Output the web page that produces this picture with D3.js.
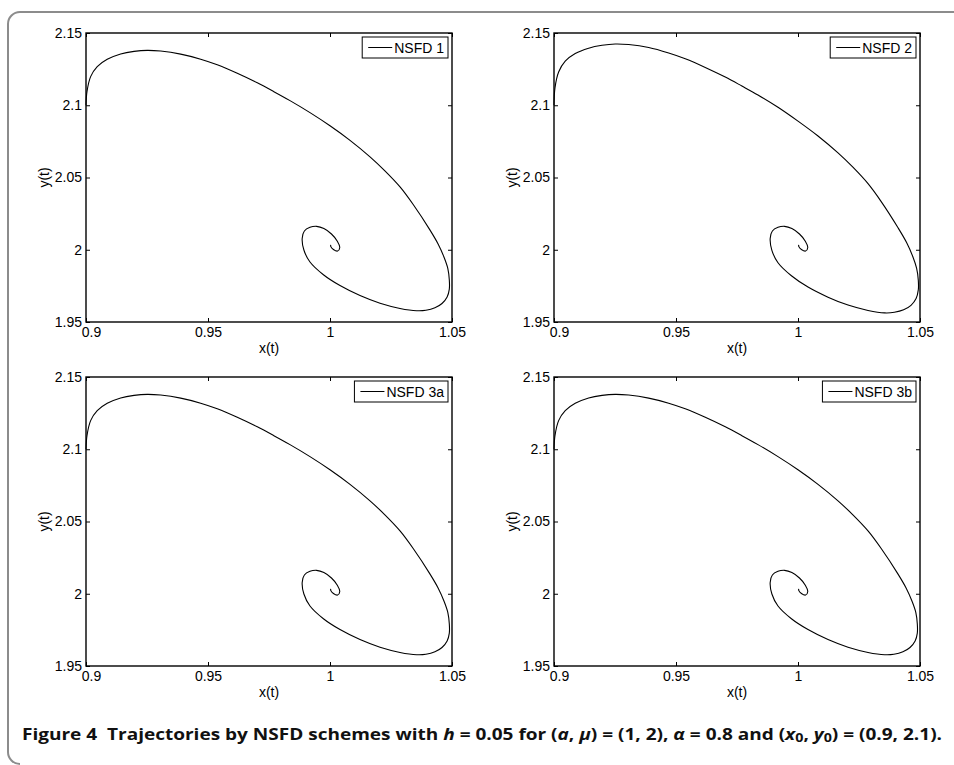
<!DOCTYPE html>
<html>
<head>
<meta charset="utf-8">
<script src="https://cdn.jsdelivr.net/npm/d3@7"></script>
<style>
  html, body { margin: 0; padding: 0; background: #fff; }
  svg { display: block; }
</style>
</head>
<body>
<svg id="chart" width="954" height="765"></svg>
<script>
// axis ticks shared by the four panels
const xTicks = [0.9, 0.95, 1, 1.05];
const yTicks = [1.95, 2, 2.05, 2.1, 2.15];
const legendLabels = ["NSFD 1", "NSFD 2", "NSFD 3a", "NSFD 3b"];

const nsfd1X = [0.9, 0.9004, 0.9019, 0.9046, 0.9087, 0.9142, 0.9197, 0.9251, 0.9306, 0.9388, 0.9470, 0.9538, 0.9620, 0.9702, 0.9770,
  0.9836, 0.9918, 1.0000, 1.0082, 1.0164, 1.0225, 1.0287, 1.0341, 1.0410, 1.0443, 1.0467, 1.0483, 1.0489, 1.0489, 1.0480,
  1.0459, 1.0430, 1.0393, 1.0355, 1.0287, 1.0205, 1.0123, 1.0041, 0.9973, 0.9918, 0.9893, 0.9886, 0.9895, 0.9918, 0.9945,
  0.9975, 1.0006, 1.0030, 1.0040, 1.0031, 1.0014, 1.0003, 1.0003];
const nsfd1Y = [2.1, 2.1094, 2.1198, 2.1267, 2.1318, 2.1355, 2.1373, 2.1380, 2.1375, 2.1354, 2.1319, 2.1280, 2.1221, 2.1155, 2.1094,
  2.1032, 2.0949, 2.0858, 2.0757, 2.0643, 2.0546, 2.0435, 2.0313, 2.0136, 2.0040, 1.9950, 1.9870, 1.9791, 1.9728, 1.9673,
  1.9628, 1.9598, 1.9581, 1.9578, 1.9594, 1.9630, 1.9683, 1.9752, 1.9827, 1.9915, 1.9998, 2.0078, 2.0130, 2.0155, 2.0162,
  2.0147, 2.0109, 2.0059, 2.0016, 1.9991, 2.0002, 2.0023, 2.0033];

// panel 2: peaks a bit higher and dips a bit lower
const nsfd2X = [0.9, 0.9004, 0.9019, 0.9046, 0.9087, 0.9142, 0.9197, 0.9251, 0.9306, 0.9388, 0.9470, 0.9538, 0.9620, 0.9702, 0.9770,
  0.9836, 0.9918, 1.0000, 1.0082, 1.0164, 1.0225, 1.0287, 1.0341, 1.0410, 1.0445, 1.0470, 1.0486, 1.0493, 1.0493, 1.0484,
  1.0463, 1.0433, 1.0395, 1.0355, 1.0287, 1.0205, 1.0123, 1.0041, 0.9973, 0.9918, 0.9893, 0.9886, 0.9895, 0.9918, 0.9945,
  0.9975, 1.0006, 1.0030, 1.0040, 1.0031, 1.0014, 1.0003, 1.0003];
const nsfd2Y = [2.1, 2.1120, 2.1230, 2.1305, 2.1358, 2.1395, 2.1415, 2.1424, 2.1420, 2.1400, 2.1362, 2.1322, 2.1262, 2.1195, 2.1133,
  2.1071, 2.0986, 2.0890, 2.0787, 2.0670, 2.0571, 2.0457, 2.0333, 2.0152, 2.0050, 1.9955, 1.9872, 1.9790, 1.9722, 1.9662,
  1.9615, 1.9584, 1.9567, 1.9563, 1.9580, 1.9617, 1.9672, 1.9742, 1.9820, 1.9910, 1.9996, 2.0078, 2.0130, 2.0155, 2.0162,
  2.0147, 2.0109, 2.0059, 2.0016, 1.9991, 2.0002, 2.0023, 2.0033];

// panels 3a and 3b look the same as panel 1
const nsfd3aX = nsfd1X, nsfd3aY = nsfd1Y;
const nsfd3bX = nsfd1X, nsfd3bY = nsfd1Y;

const series = [[nsfd1X, nsfd1Y], [nsfd2X, nsfd2Y], [nsfd3aX, nsfd3aY], [nsfd3bX, nsfd3bY]];

const svg = d3.select("#chart");
const font = "'Liberation Sans', Arial, Helvetica, sans-serif";
const fs = "14px";

// outer figure frame (only top and left edges visible)
svg.append("path")
  .attr("d", "M954,12 H20 A12,12 0 0 0 8,24 V752 A12,12 0 0 0 20,764")
  .attr("fill", "none")
  .attr("stroke", "#8c8c8c")
  .attr("stroke-width", 2);

const pw = 366, ph = 289;
const origins = [[86, 33], [554, 33], [86, 377], [554, 377]];

origins.forEach(([left, top], i) => {
  const x = d3.scaleLinear().domain([0.9, 1.05]).range([0, pw]);
  const y = d3.scaleLinear().domain([1.95, 2.15]).range([ph, 0]);
  const g = svg.append("g").attr("transform", `translate(${left},${top})`);

  const styleAxis = sel => {
    sel.select(".domain").remove();
    sel.selectAll("line").attr("stroke", "#000").attr("stroke-width", 1);
    sel.selectAll("text").attr("fill", "#000").style("font-family", font).style("font-size", fs);
  };

  const bottom = g.append("g").attr("transform", `translate(0,${ph})`)
    .call(d3.axisBottom(x).tickValues(xTicks).tickSize(-4).tickSizeOuter(0).tickPadding(5).tickFormat(d3.format("")))
    .call(styleAxis);
  bottom.selectAll("text").filter(d => d === 0.9).attr("x", 5);

  g.append("g")
    .call(d3.axisLeft(y).tickValues(yTicks).tickSize(-4).tickSizeOuter(0).tickPadding(4).tickFormat(d3.format("")))
    .call(styleAxis);

  g.append("g")
    .call(d3.axisTop(x).tickValues(xTicks).tickSize(-4).tickSizeOuter(0).tickFormat(""))
    .call(styleAxis);

  g.append("g").attr("transform", `translate(${pw},0)`)
    .call(d3.axisRight(y).tickValues(yTicks).tickSize(-4).tickSizeOuter(0).tickFormat(""))
    .call(styleAxis);

  g.append("rect")
    .attr("width", pw).attr("height", ph)
    .attr("fill", "none").attr("stroke", "#000").attr("stroke-width", 1.4);

  const [xs, ys] = series[i];
  const pts = xs.map((v, k) => [v, ys[k]]);
  g.append("path")
    .datum(pts)
    .attr("fill", "none")
    .attr("stroke", "#000")
    .attr("stroke-width", 1.1)
    .attr("stroke-linejoin", "round")
    .attr("d", d3.line().x(d => x(d[0])).y(d => y(d[1])).curve(d3.curveCatmullRom.alpha(0.5)));

  g.append("text")
    .attr("x", pw / 2).attr("y", ph + 31)
    .attr("text-anchor", "middle")
    .style("font-family", font).style("font-size", fs)
    .text("x(t)");

  g.append("text")
    .attr("transform", `translate(-37,${ph / 2}) rotate(-90)`)
    .attr("text-anchor", "middle")
    .style("font-family", font).style("font-size", fs)
    .text("y(t)");

  // legend
  const lg = g.append("g");
  const lt = lg.append("text")
    .attr("y", 19.5)
    .style("font-family", font).style("font-size", fs)
    .text(legendLabels[i]);
  const tw = lt.node().getComputedTextLength();
  const bw = tw + 36, bx = pw - 4 - bw;
  lg.insert("rect", "text")
    .attr("x", bx).attr("y", 4).attr("width", bw).attr("height", 21)
    .attr("fill", "#fff").attr("stroke", "#000").attr("stroke-width", 1);
  lg.append("line")
    .attr("x1", bx + 6).attr("x2", bx + 30).attr("y1", 14.5).attr("y2", 14.5)
    .attr("stroke", "#000").attr("stroke-width", 1);
  lt.attr("x", bx + 32);
});

// caption
const cap = svg.append("text")
  .attr("x", 22).attr("y", 740)
  .attr("textLength", 920).attr("lengthAdjust", "spacingAndGlyphs")
  .style("font-family", "'Liberation Sans Narrow', 'Open Sans', sans-serif")
  .style("font-size", "16px").style("font-weight", "bold")
  .attr("fill", "#111");
const parts = [
  ["Figure 4  Trajectories by NSFD schemes with "], ["h", "i"], [" = 0.05 for ("], ["a", "i"], [", "], ["\u03bc", "i"],
  [") = (1, 2), "], ["\u03b1", "i"], [" = 0.8 and ("], ["x", "i"], ["0", "s"], [", "], ["y", "i"], ["0", "s"], [") = (0.9, 2.1)."]
];
parts.forEach(([t, k]) => {
  const s = cap.append("tspan").text(t);
  if (k === "i") s.style("font-style", "italic");
  if (k === "s") s.attr("baseline-shift", "-20%").style("font-size", "12px");
});
cap.attr("xml:space", "preserve").style("white-space", "pre");
</script>
</body>
</html>
